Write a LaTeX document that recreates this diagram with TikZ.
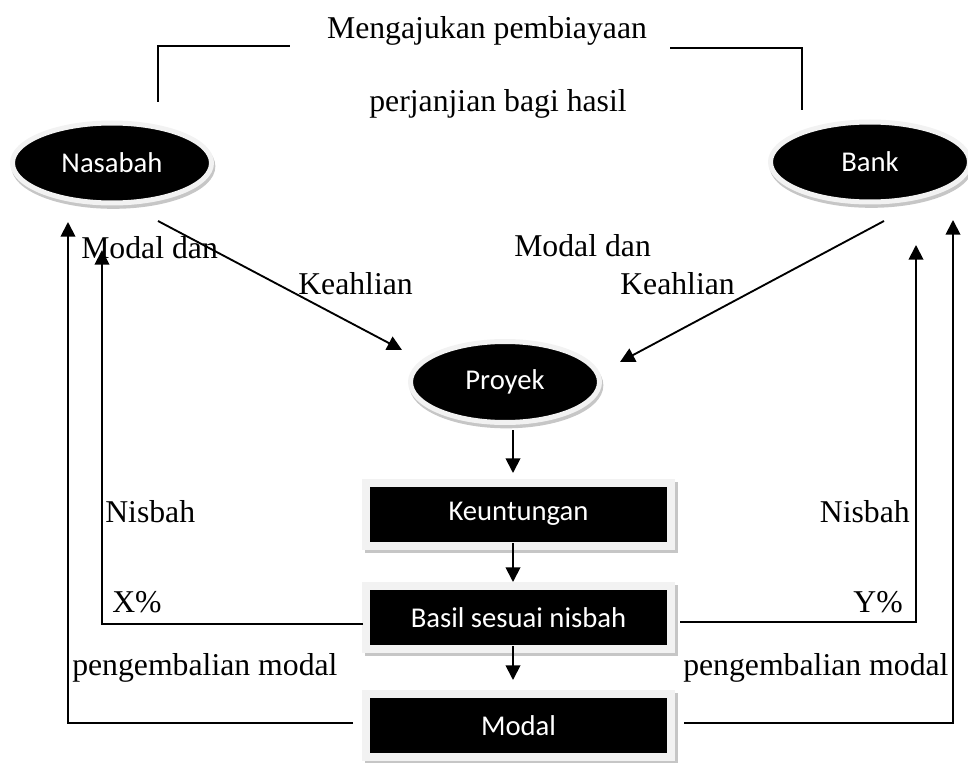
\documentclass[tikz,border=0pt]{standalone}
\usepackage{fontspec}
\setmainfont{Liberation Serif}
\newfontfamily\calfont{Carlito}
\usetikzlibrary{shapes.geometric,arrows.meta,shadows}
\begin{document}
\begin{tikzpicture}[x=0.75pt,y=-0.75pt,
  lbl/.style={font=\fontsize{23.8}{28}\selectfont, inner sep=0},
  ell/.style={ellipse, fill=black, draw=gray!10, line width=3.75pt, text=white,
    font=\calfont\fontsize{21.5}{26}\selectfont, inner sep=0,
    drop shadow={shadow xshift=1pt, shadow yshift=-2.5pt, fill=gray!45, draw=gray!45, line width=3.75pt, opacity=1}},
  box/.style={rectangle, fill=black, draw=gray!10, line width=6pt, text=white,
    font=\calfont\fontsize{21.5}{26}\selectfont, inner sep=0,
    minimum width=228.75pt, minimum height=47.25pt,
    drop shadow={shadow xshift=2.25pt, shadow yshift=-2.25pt, fill=gray!45, draw=gray!45, line width=6pt, opacity=1}},
  conn/.style={line width=1.4pt},
  arr/.style={line width=1.4pt, -{Triangle[length=11pt,width=11pt]}}]
\useasboundingbox (0,0) rectangle (968,763);

% nodes
\node[ell, minimum width=149.25pt, minimum height=60pt] (nas) at (112,163) {Nasabah};
\node[ell, minimum width=149.25pt, minimum height=60pt] (bank) at (870,162) {Bank};
\node[ell, minimum width=141.75pt, minimum height=60.75pt] (pro) at (505,382) {Proyek};
\node[box] (keu) at (518.5,514) {Keuntungan};
\node[box] (bas) at (518.5,617.5) {Basil sesuai nisbah};
\node[box] (mod) at (518.5,725.5) {Modal};

% labels
\node[lbl, anchor=base] (t1) at (487,39) {Mengajukan pembiayaan};
\node[lbl, anchor=base] (t2) at (498,112) {perjanjian bagi hasil};
\node[lbl, anchor=base west] (l1) at (81,258) {Modal dan};
\node[lbl, anchor=base west] (l2) at (298,294) {Keahlian};
\node[lbl, anchor=base west] (r1) at (514,257) {Modal dan};
\node[lbl, anchor=base west] (r2) at (620,294) {Keahlian};
\node[lbl, anchor=base west] (l3) at (105,522) {Nisbah};
\node[lbl, anchor=base east] (r3) at (910,522) {Nisbah};
\node[lbl, anchor=base west] (l4) at (112,612) {X\%};
\node[lbl, anchor=base east] (r4) at (903,612) {Y\%};
\node[lbl, anchor=base west] (l5) at (72,675) {pengembalian modal};
\node[lbl, anchor=base west] (r5) at (683,675) {pengembalian modal};

% coordinates
\coordinate (nasup) at (158,102);
\coordinate (tl) at (290,46);
\coordinate (tr) at (670,48);
\coordinate (bankup) at (802,110);
\coordinate (nasout) at (158,221);
\coordinate (proinl) at (402,350);
\coordinate (bankout) at (884,221);
\coordinate (proinr) at (620,362);
\coordinate (d1a) at (513,430);
\coordinate (d1b) at (513,473);
\coordinate (d2a) at (513,543);
\coordinate (d2b) at (513,582);
\coordinate (d3a) at (513,646);
\coordinate (d3b) at (513,680);
\coordinate (lo) at (353,723);
\coordinate (lotip) at (68,222);
\coordinate (li) at (363,624);
\coordinate (litip) at (102,250);
\coordinate (ri) at (680,622);
\coordinate (ritip) at (916,245);
\coordinate (ro) at (684,723);
\coordinate (rotip) at (953,220);

% connectors
\draw[conn] (nasup) |- (tl);
\draw[conn] (tr) -| (bankup);
\draw[arr] (nasout) -- (proinl);
\draw[arr] (bankout) -- (proinr);
\draw[arr] (d1a) -- (d1b);
\draw[arr] (d2a) -- (d2b);
\draw[arr] (d3a) -- (d3b);
\draw[arr] (lo) -| (lotip);
\draw[arr] (li) -| (litip);
\draw[arr] (ri) -| (ritip);
\draw[arr] (ro) -| (rotip);
\end{tikzpicture}
\end{document}
